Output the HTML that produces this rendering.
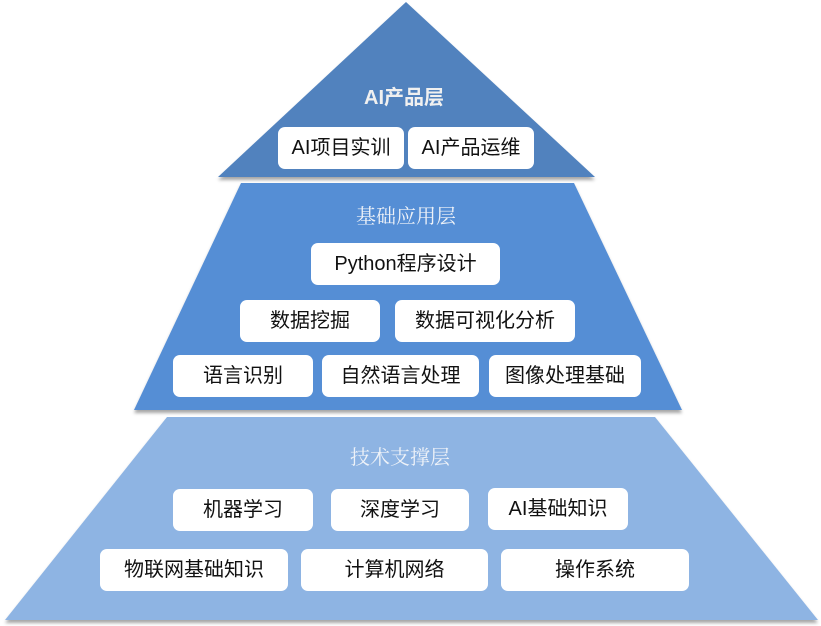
<!DOCTYPE html>
<html><head><meta charset="utf-8"><style>
body{margin:0;background:#fff;width:821px;height:626px;position:relative;overflow:hidden;font-family:"Liberation Sans","Noto Sans CJK SC",sans-serif}
.b{position:absolute;background:#fff;border-radius:7px;text-align:center;font-size:20px;color:#111;line-height:42px;height:42px}
.t{position:absolute;color:#eef2f8;font-size:20px;text-align:center;width:300px}
</style></head><body>
<svg width="821" height="626" style="position:absolute;left:0;top:0">
<defs><filter id="s" x="-5%" y="-5%" width="110%" height="120%"><feDropShadow dx="0" dy="3" stdDeviation="1.5" flood-color="#000" flood-opacity="0.35"/></filter></defs>
<polygon points="406,2 595,177 218,177" fill="#5182BE" filter="url(#s)"/>
<polygon points="241,183 574,183 682,410 134,410" fill="#558ED5" filter="url(#s)"/>
<polygon points="167,417 655,417 818,620 5,620" fill="#8EB4E3" filter="url(#s)"/>
</svg>
<div class="t" style="left:254px;top:81px;font-weight:bold;color:#f0f0f0">AI产品层</div>
<div class="t" style="left:256px;top:200px;font-family:'Noto Serif CJK SC',serif">基础应用层</div>
<div class="t" style="left:250px;top:441px;font-family:'Noto Serif CJK SC',serif">技术支撑层</div>
<div class="b" style="left:278px;top:127px;width:126px">AI项目实训</div>
<div class="b" style="left:408px;top:127px;width:126px">AI产品运维</div>
<div class="b" style="left:311px;top:243px;width:189px">Python程序设计</div>
<div class="b" style="left:240px;top:300px;width:140px">数据挖掘</div>
<div class="b" style="left:395px;top:300px;width:180px">数据可视化分析</div>
<div class="b" style="left:173px;top:355px;width:140px">语言识别</div>
<div class="b" style="left:322px;top:355px;width:157px">自然语言处理</div>
<div class="b" style="left:489px;top:355px;width:152px">图像处理基础</div>
<div class="b" style="left:173px;top:489px;width:140px">机器学习</div>
<div class="b" style="left:331px;top:489px;width:138px">深度学习</div>
<div class="b" style="left:488px;top:488px;width:140px">AI基础知识</div>
<div class="b" style="left:100px;top:549px;width:188px">物联网基础知识</div>
<div class="b" style="left:301px;top:549px;width:187px">计算机网络</div>
<div class="b" style="left:501px;top:549px;width:188px">操作系统</div>
</body></html>
